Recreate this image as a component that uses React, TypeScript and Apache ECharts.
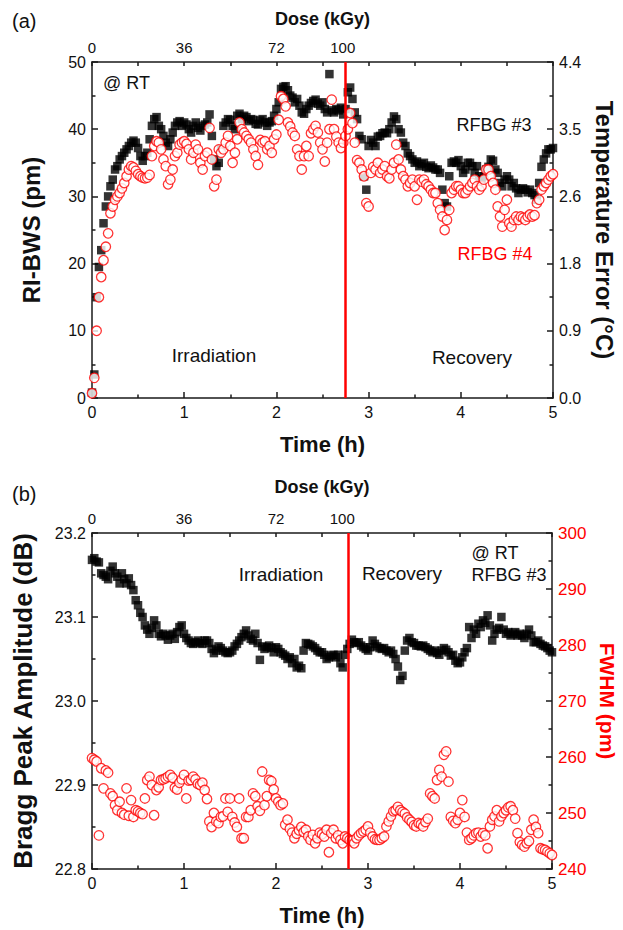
import React, { useEffect, useRef } from "react";
import * as echarts from "echarts";

// sampling step of the logged measurements (hours)
const SAMPLE_STEP_H = 0.025;

// top dose axis: tick positions (time, h) and their dose labels (kGy)
const doseTickTimes = [0, 1, 2, 2.72];
const doseTickLabels = ["0", "36", "72", "100"];

// end of irradiation (h) in each panel
const endIrradiationA = 2.75;
const endIrradiationB = 2.78;

// (a) RI-BWS (pm)
const rfbg3Shift = [
  0.8, 3.5, 15, 19.5, 22, 26, 28.5, 30, 31.5, 32.5,
  34, 34.5, 35.5, 36, 36.5, 37, 37.5, 38, 38.3, 38,
  37.2, 36, 35.3, 36, 36.5, 38.5, 40.5, 41.5, 41.8, 40.5,
  40, 39, 38, 37.5, 38.5, 39.5, 40.5, 41, 41.2, 40.5,
  41, 40.7, 40, 39.5, 40.5, 41, 40.2, 39.8, 40.5, 40.7,
  41, 42.2, 39, 35.5, 34.5, 35, 37, 40.5, 41, 41.5,
  41.4, 40.5, 40, 42, 42.3, 41.5, 42, 41.8, 41.2, 41.5,
  41.4, 40.8, 40.7, 41.3, 41.5, 41, 40.5, 41, 41.2, 42,
  43, 44, 46, 46.3, 46.4, 45.8, 45, 44.7, 44, 44.5,
  43.5, 42.5, 42.3, 43, 43.5, 43.9, 44.2, 44.4, 43.8, 43.5,
  44, 43, 42.5, 48.2, 42.8, 42.5, 43, 42.8, 43.2, 42.2,
  43, 45.5, 46.2, 44.5, 42.5, 41.5, 39, 38.5, 33, 31,
  37.5, 38.4, 38, 37.5, 38.9, 39, 39.4, 39.5, 39.4, 40,
  41, 41.9, 41.5, 40, 39.5, 38, 37.5, 36.4, 36, 35.5,
  35, 35.2, 34.5, 34.8, 35, 34.4, 34.2, 34.6, 34.3, 34,
  34, 33.5, 31, 29, 28.5, 33, 35, 35.2, 35, 35.4,
  34.5, 33.5, 34, 35, 35, 34.5, 33.5, 34.5, 33, 32.5,
  33, 34, 34.4, 35.5, 35.3, 34, 33.5, 32, 31.5, 32.5,
  33, 32.5, 31.5, 32, 31.2, 30.5, 31, 31.2, 31, 30.6,
  31, 30.5, 30.2, 29.5, 32, 34.4, 35.5, 36.4, 37, 37,
  37.2,
];

const rfbg4Shift = [
  0.7, 3, 10, 15, 18, 20.5, 22.5, 24.5, 27.5, 28.5,
  29.5, 30, 30.5, 31.2, 32, 33, 34, 34.5, 34.3, 33.8,
  33.3, 33, 32.8, 32.7, 32.8, 33.2, 36, 37.5, 38.2, 38,
  37, 35.5, 34.5, 31.8, 32.5, 34, 36, 36.5, 37.7, 38,
  38.2, 37.8, 37, 35.5, 36.5, 37.7, 37, 35, 34, 36,
  36.5, 40.2, 35.5, 31.5, 32.5, 37, 36.5, 37, 38, 39,
  37.5, 35, 36.5, 38.5, 41, 40, 39.5, 39, 38.5, 38,
  37, 36, 34.7, 38.4, 38, 38.2, 37, 37.5, 36.5, 38.5,
  39.2, 41.4, 44.9, 44.5, 43.4, 41, 40.4, 39.5, 39, 37,
  36, 34, 36, 37.5, 36, 39.4, 40, 40.5, 39.5, 38,
  37, 35.2, 38, 40, 44.4, 40, 38.9, 38, 37.2, 38,
  39, 40, 42.4, 40.9, 38, 35.4, 35, 34, 33, 29,
  28.5, 33.5, 34.4, 34, 35, 33.5, 34, 34.5, 33, 32.7,
  34, 35, 37.7, 35.5, 34, 33, 32.5, 31.5, 32, 32.5,
  31.5, 29.5, 32.5, 32.2, 32.5, 31.8, 31.5, 31, 30.5, 30.5,
  29, 28, 27, 25, 26.5, 28, 30.5, 31, 31.5, 31.5,
  31, 30.5, 30.5, 31, 31.5, 32, 32.5, 31.5, 31, 31.5,
  32.5, 34, 34, 33, 32, 31, 28.5, 27, 25.5, 28,
  29.5, 26, 25.5, 26.5, 27, 26.5, 27, 26.8, 26.5, 27,
  27.3, 27, 27.2, 29, 29.5, 31, 31.5, 32, 32.5, 33,
  33.3,
];

// (b) Bragg peak amplitude (dB) and FWHM (pm) of RFBG #3
const rfbg3Amplitude = [
  23.168, 23.17, 23.166, 23.165, 23.152, 23.15, 23.148, 23.145, 23.155, 23.16,
  23.152, 23.148, 23.14, 23.152, 23.145, 23.14, 23.146, 23.138, 23.132, 23.12,
  23.114, 23.105, 23.1, 23.09, 23.085, 23.08, 23.087, 23.096, 23.09, 23.08,
  23.077, 23.08, 23.078, 23.073, 23.078, 23.08, 23.074, 23.082, 23.088, 23.09,
  23.08, 23.075, 23.072, 23.069, 23.068, 23.07, 23.072, 23.069, 23.068, 23.072,
  23.072, 23.069, 23.062, 23.057, 23.06, 23.065, 23.063, 23.06, 23.058, 23.057,
  23.058, 23.06, 23.065, 23.068, 23.072, 23.076, 23.08, 23.084, 23.078, 23.074,
  23.072, 23.08, 23.069, 23.049, 23.065, 23.062, 23.064, 23.066, 23.063, 23.058,
  23.064, 23.062, 23.058, 23.056, 23.054, 23.05, 23.052, 23.045, 23.05, 23.04,
  23.042, 23.039, 23.06, 23.069, 23.068, 23.067, 23.065, 23.063, 23.06, 23.058,
  23.058, 23.055, 23.05, 23.052, 23.054, 23.055, 23.052, 23.055, 23.045, 23.04,
  23.055, 23.062, 23.068, 23.073, 23.07, 23.069, 23.07, 23.066, 23.064, 23.062,
  23.06, 23.064, 23.072, 23.068, 23.065, 23.063, 23.062, 23.063, 23.06, 23.058,
  23.06, 23.056, 23.05, 23.041, 23.025, 23.03, 23.06, 23.072, 23.075, 23.07,
  23.069, 23.066, 23.066, 23.065, 23.066, 23.064, 23.062, 23.06, 23.058, 23.06,
  23.057, 23.055, 23.06, 23.063, 23.061, 23.058, 23.054, 23.055, 23.048, 23.045,
  23.046, 23.052, 23.058, 23.063, 23.088, 23.075, 23.085, 23.08, 23.092, 23.088,
  23.096, 23.093, 23.102, 23.09, 23.072, 23.08, 23.085, 23.087, 23.1, 23.085,
  23.08, 23.082, 23.078, 23.08, 23.082, 23.078, 23.08, 23.078, 23.075, 23.08,
  23.085, 23.078, 23.07, 23.07, 23.072, 23.068, 23.066, 23.065, 23.063, 23.06,
  23.058,
];

const rfbg3Fwhm = [
  259.8, 259.5, 259.2, 246, 258, 254.4, 257.6, 257.2, 253.5, 253,
  251.4, 250.5, 252, 250, 249.7, 254.4, 249.5, 252.3, 249.3, 250.5,
  250.3, 250, 249.8, 252.6, 255.9, 256.5, 255, 249.6, 254.1, 254.6,
  255.9, 256, 256.2, 256.5, 256.8, 256.3, 254.5, 254.2, 255.4, 256,
  256.8, 252.6, 255.8, 255.9, 256.5, 256, 255.2, 255, 255.4, 254.1,
  252.5, 248.5, 247.5, 250, 248.5, 248.2, 249.3, 249.4, 252.6, 250.2,
  252.6, 249.3, 248.3, 247.5, 252.6, 245.5, 245.5, 249.3, 249.3, 250.5,
  253.5, 253, 251.2, 250.4, 257.4, 251.4, 253, 255.9, 255.7, 254.2,
  252.6, 252, 251.4, 251.7, 247.9, 248.8, 247.2, 246.5, 245.5, 246.3,
  246.9, 247.5, 246.6, 247, 245.8, 245.2, 246.1, 244.6, 245.5, 246.5,
  246.2, 245.8, 247, 243, 246.4, 247, 245.5, 246, 245.2, 244.6,
  245.8, 245.5, 245.2, 245, 244.6, 245.5, 246, 246.4, 246.7, 247,
  247.6, 246.5, 245.8, 245.3, 245.2, 245.2, 245.5, 245.8, 247.6, 248.5,
  249.4, 250.3, 250.5, 251.1, 250.5, 250.2, 249.9, 249.2, 248.8, 248.4,
  247.8, 247.6, 248.2, 248, 247.6, 248.4, 249, 253.5, 253, 252.6,
  255.9, 257.7, 256.5, 260.4, 261, 255.6, 249.3, 248.6, 248.2, 248.8,
  250, 252.3, 249.3, 246.5, 245.2, 245.5, 246, 246.4, 246.5, 245.8,
  246.4, 246, 243.7, 247.6, 248.8, 249.4, 250.5, 248.5, 249.4, 250,
  250.5, 251, 251.2, 250.5, 249, 246.4, 244.8, 244.3, 244, 244.6,
  245, 247, 248.8, 247.5, 246.4, 243.7, 243.5, 243.4, 243.1, 242.8,
  242.5,
];

const FONT = "'Liberation Sans', Arial, Helvetica, sans-serif";
const INK = "#111";
const RED = "#ff0000";

const toPairs = (vals: number[]) =>
  vals.map((v, i) => [+(i * SAMPLE_STEP_H).toFixed(4), v]);

const lineStyle = { color: "#1a1a1a", width: 1.5 };

function timeAxis(gridIndex: number) {
  return {
    type: "value",
    gridIndex,
    position: "bottom",
    min: 0,
    max: 5,
    interval: 1,
    axisLine: { show: true, onZero: false, lineStyle },
    axisTick: { show: true, inside: true, length: 6, lineStyle },
    minorTick: { show: true, splitNumber: 2, length: 3.5, lineStyle },
    splitLine: { show: false },
    minorSplitLine: { show: false },
    axisLabel: { color: INK, fontSize: 16, fontFamily: FONT, margin: 6 },
    name: "Time (h)",
    nameLocation: "middle",
    nameGap: 35,
    nameTextStyle: { color: INK, fontSize: 22, fontWeight: "bold", fontFamily: FONT },
  };
}

function doseAxis(gridIndex: number, gap: number) {
  return {
    type: "value",
    gridIndex,
    position: "top",
    min: 0,
    max: 5,
    interval: 0.5,
    axisLine: { show: true, onZero: false, lineStyle },
    axisTick: { show: true, inside: true, length: 4, lineStyle },
    splitLine: { show: false },
    axisLabel: {
      customValues: doseTickTimes,
      color: INK,
      fontSize: 15,
      fontFamily: FONT,
      margin: 7,
      formatter: (v: number) => {
        const i = doseTickTimes.findIndex((d) => Math.abs(d - v) < 1e-6);
        return i >= 0 ? doseTickLabels[i] : "";
      },
    },
    name: "Dose (kGy)",
    nameLocation: "middle",
    nameGap: gap,
    nameTextStyle: { color: INK, fontSize: 18, fontWeight: "bold", fontFamily: FONT },
  };
}

function valueAxis(o: any) {
  const { labelColor = INK, labelSize = 16, nameColor = INK, nameSize = 22, axisLabel = {}, ...rest } = o;
  return {
    type: "value",
    axisLine: { show: true, onZero: false, lineStyle },
    axisTick: { show: true, inside: true, length: 6, lineStyle },
    minorTick: { show: true, splitNumber: 2, length: 3.5, lineStyle },
    splitLine: { show: false },
    minorSplitLine: { show: false },
    nameLocation: "middle",
    nameTextStyle: { color: nameColor, fontSize: nameSize, fontWeight: "bold", fontFamily: FONT },
    ...rest,
    axisLabel: { color: labelColor, fontSize: labelSize, fontFamily: FONT, margin: 6, ...axisLabel },
  };
}

const redLine = (x: number) => ({
  silent: true,
  symbol: ["none", "none"],
  label: { show: false },
  lineStyle: { color: RED, width: 2.5, type: "solid" },
  data: [{ xAxis: x }],
});

const text = (t: string, x: number, y: number, size: number, fill = INK, align = "center") => ({
  type: "text",
  x,
  y,
  style: {
    text: t,
    fill,
    fontSize: size,
    fontFamily: FONT,
    align,
    verticalAlign: "middle",
  },
});

export default function App() {
  const ref = useRef<HTMLDivElement>(null);

  useEffect(() => {
    if (!ref.current) return;
    const chart = echarts.init(ref.current, undefined, { renderer: "svg" });

    const option: any = {
      animation: false,
      backgroundColor: "#fff",
      grid: [
        { left: 92, top: 62, width: 461, height: 336, outerBoundsMode: "none", containLabel: false },
        { left: 92, top: 533, width: 460, height: 336, outerBoundsMode: "none", containLabel: false },
      ],
      xAxis: [timeAxis(0), doseAxis(0, 34), timeAxis(1), doseAxis(1, 37)],
      yAxis: [
        valueAxis({
          gridIndex: 0,
          position: "left",
          min: 0,
          max: 50,
          interval: 10,
          name: "RI-BWS (pm)",
          nameGap: 49,
          nameRotate: 90,
          nameSize: 24,
        }),
        valueAxis({
          gridIndex: 0,
          position: "right",
          min: 0,
          max: 4.4,
          interval: 0.88,
          name: "Temperature Error (°C)",
          nameGap: 37,
          nameRotate: -90,
          nameSize: 24,
          axisLabel: { formatter: (v: number) => v.toFixed(1) },
        }),
        valueAxis({
          gridIndex: 1,
          position: "left",
          min: 22.8,
          max: 23.2,
          interval: 0.1,
          name: "Bragg Peak Amplitude (dB)",
          nameGap: 56,
          nameRotate: 90,
          nameSize: 26,
          axisLabel: { formatter: (v: number) => v.toFixed(1) },
        }),
        valueAxis({
          gridIndex: 1,
          position: "right",
          min: 240,
          max: 300,
          interval: 10,
          name: "FWHM (pm)",
          nameGap: 44,
          nameRotate: -90,
          nameSize: 21,
          labelColor: RED,
          labelSize: 17,
          nameColor: RED,
        }),
      ],
      series: [
        {
          name: "RFBG #3",
          type: "scatter",
          xAxisIndex: 0,
          yAxisIndex: 0,
          symbol: "rect",
          symbolSize: 8.5,
          itemStyle: { color: "#000" },
          data: toPairs(rfbg3Shift),
          z: 2,
        },
        {
          name: "RFBG #4",
          type: "scatter",
          xAxisIndex: 0,
          yAxisIndex: 0,
          symbol: "circle",
          symbolSize: 9.5,
          itemStyle: { color: "#fff", borderColor: RED, borderWidth: 1.3 },
          data: toPairs(rfbg4Shift),
          markLine: redLine(endIrradiationA),
          z: 3,
        },
        {
          name: "Amplitude",
          type: "scatter",
          xAxisIndex: 2,
          yAxisIndex: 2,
          symbol: "rect",
          symbolSize: 8.5,
          itemStyle: { color: "#000" },
          data: toPairs(rfbg3Amplitude),
          z: 2,
        },
        {
          name: "FWHM",
          type: "scatter",
          xAxisIndex: 2,
          yAxisIndex: 3,
          symbol: "circle",
          symbolSize: 9.5,
          itemStyle: { color: "#fff", borderColor: RED, borderWidth: 1.3 },
          data: toPairs(rfbg3Fwhm),
          markLine: redLine(endIrradiationB),
          z: 3,
        },
      ],
      graphic: [
        text("(a)", 12, 21, 20, INK, "left"),
        text("@ RT", 103, 83, 18, INK, "left"),
        text("Irradiation", 214, 355, 19),
        text("Recovery", 472, 357, 19),
        text("RFBG #3", 494, 125, 18),
        text("RFBG #4", 495, 254, 18, RED),
        text("(b)", 12, 494, 20, INK, "left"),
        text("Irradiation", 281, 574, 19),
        text("Recovery", 402, 573, 19),
        text("@ RT", 495, 553, 18),
        text("RFBG #3", 509, 575, 18),
      ],
    };

    chart.setOption(option);
    return () => chart.dispose();
  }, []);

  return (
    <div
      ref={ref}
      style={{ position: "absolute", left: 0, top: 0, width: 623, height: 930, background: "#fff" }}
    />
  );
}
